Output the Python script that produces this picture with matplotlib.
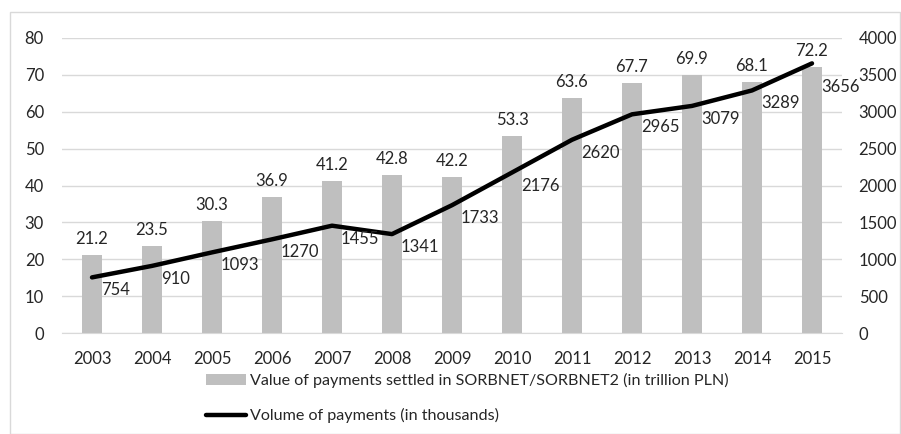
import numpy as np
import matplotlib
matplotlib.use("Agg")
import matplotlib.pyplot as plt
from matplotlib.patches import Rectangle

# data
years = ["2003", "2004", "2005", "2006", "2007", "2008", "2009",
         "2010", "2011", "2012", "2013", "2014", "2015"]
value_trn = [21.2, 23.5, 30.3, 36.9, 41.2, 42.8, 42.2, 53.3, 63.6, 67.7, 69.9, 68.1, 72.2]
volume_thous = [754, 910, 1093, 1270, 1455, 1341, 1733, 2176, 2620, 2965, 3079, 3289, 3656]

bar_label = "Value of payments settled in SORBNET/SORBNET2 (in trillion PLN)"
line_label = "Volume of payments (in thousands)"

plt.rcParams["font.family"] = ["Lato", "DejaVu Sans"]
text_col = "#262626"
grid_col = "#D9D9D9"

fig = plt.figure(figsize=(9.01, 4.34), dpi=100)
W, H = 901, 434
ax = fig.add_axes([62 / W, 1 - 333 / H, (842 - 62) / W, (333 - 38) / H])
ax2 = ax.twinx()

x = np.arange(len(years))
bars = ax.bar(x, value_trn, width=0.32, color="#BFBFBF", zorder=2, label=bar_label)
line, = ax2.plot(x, volume_thous, color="black", lw=3.2, solid_capstyle="round",
                 zorder=3, label=line_label)

ax.set_xlim(-0.5, len(years) - 0.5)
ax.set_ylim(0, 80)
ax2.set_ylim(0, 4000)
ax.set_yticks(np.arange(0, 81, 10))
ax2.set_yticks(np.arange(0, 4001, 500))
ax.set_xticks(x)
ax.set_xticklabels(years)

ax.grid(axis="y", color=grid_col, lw=1, zorder=0)
ax.set_axisbelow(True)
for a in (ax, ax2):
    for s in a.spines.values():
        s.set_visible(False)
    a.tick_params(length=0, labelsize=12, colors=text_col)
ax.spines["bottom"].set_visible(True)
ax.spines["bottom"].set_color(grid_col)
ax.tick_params(axis="x", pad=13)
ax.tick_params(axis="y", pad=13)
ax2.tick_params(axis="y", pad=12)

# put line on top of bars
ax.set_zorder(1)
ax2.set_zorder(2)
ax2.patch.set_visible(False)

for xi, v in zip(x, value_trn):
    ax.annotate(f"{v:.1f}", (xi, v), xytext=(0, 8), textcoords="offset pixels",
                ha="center", va="bottom", fontsize=12, color=text_col)
for i, (xi, v) in enumerate(zip(x, volume_thous)):
    # last label sits lower so it clears the right-hand tick labels
    dy = -24 if i == len(x) - 1 else -13
    ax2.annotate(str(v), (xi, v), xytext=(9, dy), textcoords="offset pixels",
                 ha="left", va="center", fontsize=12, color=text_col)

fig.legend(handles=[bars, line], labels=[bar_label, line_label],
           loc="upper left", bbox_to_anchor=(206 / W, 1 - 373 / H),
           frameon=False, fontsize=11.6, handlelength=2.5, handletextpad=0.2,
           labelspacing=1.25, borderpad=0, borderaxespad=0, labelcolor=text_col)

# outer chart border
fig.patches.append(Rectangle((10 / W, 0), (W - 11) / W, 1 - 12 / H, transform=fig.transFigure,
                             fill=False, edgecolor=grid_col, lw=1))

fig.savefig("out.png", dpi=100)
